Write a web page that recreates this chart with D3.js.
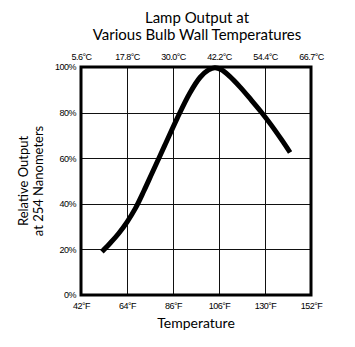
<!DOCTYPE html>
<html>
<head>
<meta charset="utf-8">
<script src="https://cdn.jsdelivr.net/npm/d3@7"></script>
<style>
  html, body { margin: 0; padding: 0; background: #fff; }
  svg { display: block; }
</style>
</head>
<body>
<svg id="chart" width="355" height="347"></svg>
<script>
// ---- data ----
const titleLines = ["Lamp Output at", "Various Bulb Wall Temperatures"];
const yTitleLines = ["Relative Output", "at 254 Nanometers"];
const xTitle = "Temperature";
const fTicks = [42, 64, 86, 108, 130, 152];
const fLabels = ["42°F", "64°F", "86°F", "106°F", "130°F", "152°F"];
const cLabels = ["5.6°C", "17.8°C", "30.0°C", "42.2°C", "54.4°C", "66.7°C"];
const yTicks = [0, 20, 40, 60, 80, 100];
const tempF = [52, 56, 60, 64, 68, 72, 76, 82, 88, 94, 99, 103, 106, 109, 113, 118, 123, 128, 133, 138, 142];
const output = [19, 22.8, 27, 32, 38, 45.5, 53.5, 65.5, 77.5, 88.5, 95.5, 98.7, 99.7, 98.9, 96, 91.3, 86, 80.5, 74.5, 68, 62.5];

// ---- layout ----
const svg = d3.select("#chart");
const pLeft = 81, pRight = 311, pTop = 67, pBottom = 295;
const x = d3.scaleLinear().domain([42, 152]).range([pLeft, pRight]);
const y = d3.scaleLinear().domain([0, 100]).range([pBottom, pTop]);
const font = "'Liberation Sans', Arial, sans-serif";
const titleFont = "Lato, 'Open Sans', sans-serif";

// title
svg.append("g").selectAll("text").data(titleLines).join("text")
  .attr("x", 197).attr("y", (d, i) => 23 + i * 17)
  .attr("text-anchor", "middle")
  .attr("font-family", titleFont).attr("font-size", 15)
  .attr("fill", "#000").text(d => d);

// grid
const grid = svg.append("g").attr("stroke", "#111").attr("stroke-width", 1);
grid.selectAll("line.v").data(fTicks.slice(1, -1)).join("line")
  .attr("class", "v")
  .attr("x1", d => Math.round(x(d)) + 0.5).attr("x2", d => Math.round(x(d)) + 0.5)
  .attr("y1", pTop).attr("y2", pBottom);
grid.selectAll("line.h").data(yTicks.slice(1, -1)).join("line")
  .attr("class", "h")
  .attr("y1", d => Math.round(y(d)) + 0.5).attr("y2", d => Math.round(y(d)) + 0.5)
  .attr("x1", pLeft).attr("x2", pRight);

// bottom axis (°F)
const xAxisB = d3.axisBottom(x).tickValues(fTicks)
  .tickFormat((d, i) => fLabels[i]).tickSize(0).tickPadding(8);
const gB = svg.append("g").attr("transform", `translate(0,${pBottom})`).call(xAxisB);
// top axis (°C)
const xAxisT = d3.axisTop(x).tickValues(fTicks)
  .tickFormat((d, i) => cLabels[i]).tickSize(0).tickPadding(7);
const gT = svg.append("g").attr("transform", `translate(0,${pTop})`).call(xAxisT);
// left axis
const yAxis = d3.axisLeft(y).tickValues(yTicks)
  .tickFormat(d => d + "%").tickSize(0).tickPadding(5);
const gL = svg.append("g").attr("transform", `translate(${pLeft},0)`).call(yAxis);

[gB, gT, gL].forEach(g => {
  g.select(".domain").remove();
  g.selectAll("text").attr("font-family", font).attr("font-size", 9)
    .attr("fill", "#000").attr("letter-spacing", -0.5);
});

// frame
svg.append("rect")
  .attr("x", pLeft).attr("y", pTop)
  .attr("width", pRight - pLeft).attr("height", pBottom - pTop)
  .attr("fill", "none").attr("stroke", "#000").attr("stroke-width", 3);

// curve
const pts = tempF.map((t, i) => [t, output[i]]);
const line = d3.line().x(d => x(d[0])).y(d => y(d[1])).curve(d3.curveCatmullRom.alpha(0.5));
svg.append("path").datum(pts)
  .attr("d", line)
  .attr("fill", "none").attr("stroke", "#000")
  .attr("stroke-width", 5).attr("stroke-linecap", "butt");

// axis titles
svg.append("text")
  .attr("x", (pLeft + pRight) / 2).attr("y", 328)
  .attr("text-anchor", "middle")
  .attr("font-family", titleFont).attr("font-size", 14)
  .attr("fill", "#000").text(xTitle);

svg.append("g").attr("transform", "translate(0,181) rotate(-90)")
  .selectAll("text").data(yTitleLines).join("text")
  .attr("x", 0).attr("y", (d, i) => 28 + i * 15)
  .attr("text-anchor", "middle")
  .attr("font-family", titleFont).attr("font-size", 13)
  .attr("fill", "#000").text(d => d);
</script>
</body>
</html>
